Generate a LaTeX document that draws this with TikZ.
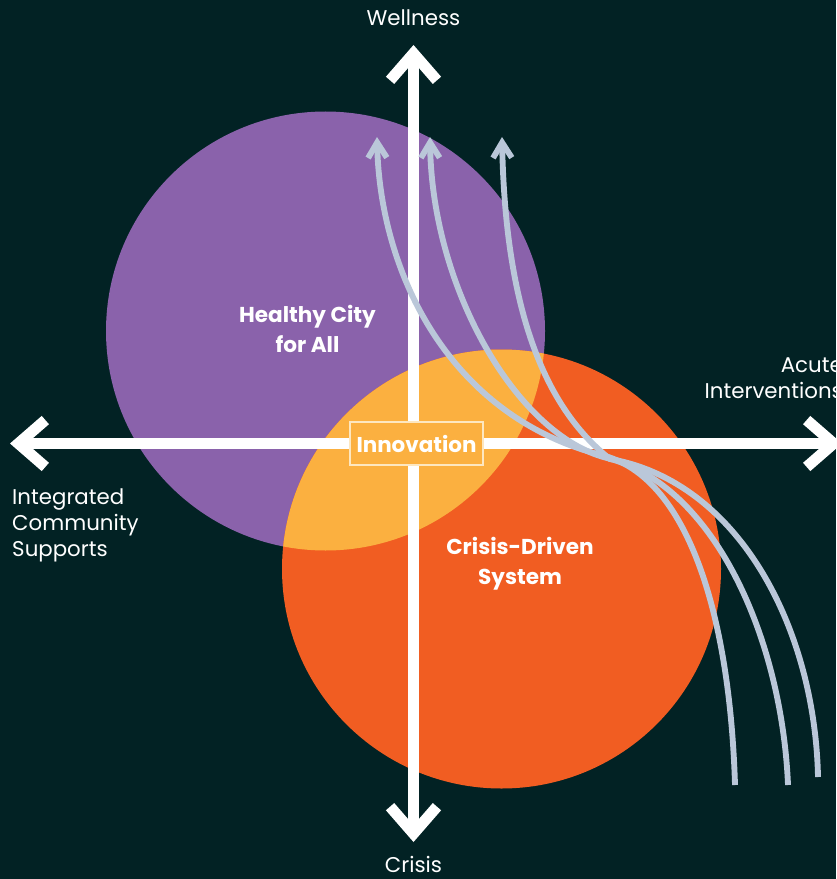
\documentclass[tikz,border=0pt]{standalone}
\usepackage{fontspec}
\setmainfont{Poppins}
\usepackage{tikz}
\usetikzlibrary{arrows.meta, positioning}

\definecolor{bgdark}{HTML}{022224}
\definecolor{cityviolet}{HTML}{8A62AB}
\definecolor{crisisorange}{HTML}{F15D22}
\definecolor{innoyellow}{HTML}{FBB040}
\definecolor{pathgrey}{HTML}{BAC7D9}
\definecolor{boxcream}{HTML}{FDE7C0}

\tikzset{
  axisline/.style={draw=white, line width=9.4pt,
    {Straight Barb[length=23pt,width=40pt]}-{Straight Barb[length=23pt,width=40pt]}},
  pathline/.style={draw=pathgrey, line width=5pt,
    -{Straight Barb[length=13pt,width=16pt]}},
  axislabel/.style={text=white, font=\fontsize{18.2}{22.6}\selectfont, inner sep=0pt},
  zonelabel/.style={text=white, font=\fontsize{18.4}{25.6}\selectfont\bfseries,
    align=center, inner sep=0pt},
  innobox/.style={draw=boxcream, line width=1.6pt, fill=innoyellow, text=white,
    font=\fontsize{18.3}{22}\selectfont\bfseries,
    minimum width=113.5pt, minimum height=36.7pt, inner sep=0pt}
}

\begin{document}
\begin{tikzpicture}[x=0.03cm, y=-0.03cm]
        \useasboundingbox (0,0) rectangle (836,879);
        \fill[bgdark] (0,0) rectangle (836,879);

        % the two circles and their overlap
        \fill[cityviolet] (325.5,331) circle[radius=219.5];
        \fill[crisisorange] (501.5,569) circle[radius=219.5];
        \begin{scope}
            \clip (325.5,331) circle[radius=219.5];
            \fill[innoyellow] (501.5,569) circle[radius=219.5];
        \end{scope}

        % axes
        \coordinate (wtop) at (413.5,45);
        \coordinate (cbottom) at (413.5,842);
        \coordinate (leftend) at (10,443.5);
        \coordinate (rightend) at (842,443.5);
        \draw[axisline] (cbottom) -- (wtop);
        \draw[axisline] (leftend) -- (rightend);

        \node[innobox] (innovation) at (416.5,443.5) {Innovation};

        % paths from crisis towards wellness, twisted together at the merge
        \coordinate (endA) at (735,785);
        \coordinate (endB) at (788,785);
        \coordinate (endC) at (818,777);
        \coordinate (mergeA) at (605,456);
        \coordinate (mergeB) at (607,458);
        \coordinate (mergeC) at (610,459);
        \coordinate (tipA) at (377,137);
        \coordinate (tipB) at (430,137);
        \coordinate (tipC) at (502,137);
        \draw[pathline] (endA) .. controls (730,620) and (690,480) .. (mergeA)
            .. controls (449,418) and (380,272) .. (tipA);
        \draw[pathline] (endB) .. controls (782,640) and (715,485) .. (mergeB)
            .. controls (516,435) and (432,287) .. (tipB);
        \draw[pathline] (endC) .. controls (815,630) and (740,482) .. (mergeC)
            .. controls (535,400) and (505,288) .. (tipC);

        % labels
        \node[axislabel, anchor=base] (wellness) at (413.5,26) {Wellness};
        \node[axislabel, anchor=base] (crisis) at (413.5,872) {Crisis};
        \node[axislabel, anchor=north east, align=right] (acute) at (843,357)
            {Acute\\Interventions};
        \node[axislabel, anchor=north west, align=left] (community) at (12,488)
            {Integrated\\Community\\Supports};
        \node[zonelabel, anchor=north] (healthy) at (307.5,305) {Healthy City\\for All};
        \node[zonelabel, anchor=north] (crisisdriven) at (520,537) {Crisis-Driven\\System};
\end{tikzpicture}
\end{document}
